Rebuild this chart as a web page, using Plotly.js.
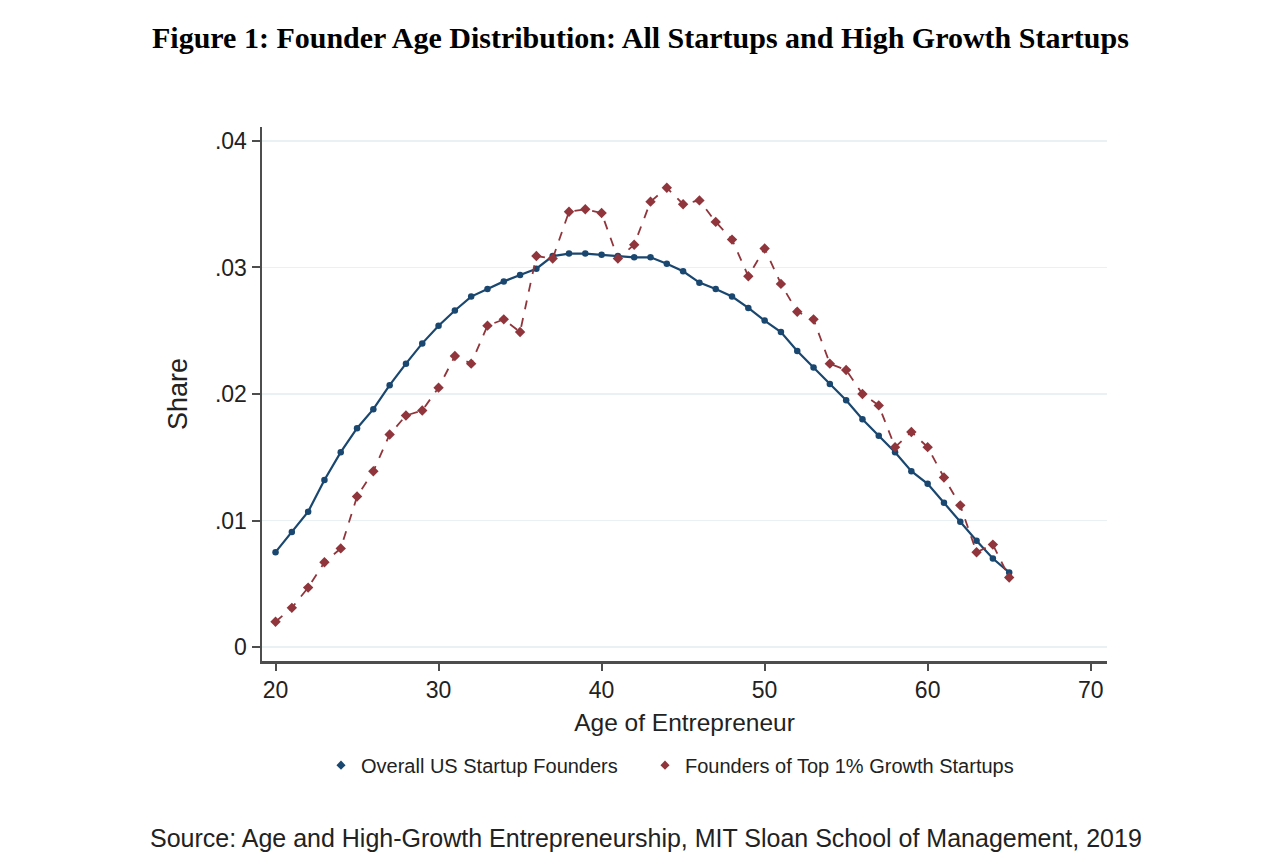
<!DOCTYPE html>
<html>
<head>
<meta charset="utf-8">
<script src="https://cdn.plot.ly/plotly-3.0.1.min.js"></script>
<style>
  html, body { margin: 0; padding: 0; background: #fff; }
  #chart { width: 1280px; height: 865px; }
</style>
</head>
<body>
<div id="chart"></div>
<script>
// founder age, 20..65
const ages = [20, 21, 22, 23, 24, 25, 26, 27, 28, 29, 30, 31, 32, 33, 34, 35,
  36, 37, 38, 39, 40, 41, 42, 43, 44, 45, 46, 47, 48, 49, 50, 51, 52, 53, 54,
  55, 56, 57, 58, 59, 60, 61, 62, 63, 64, 65];

// share of all US startup founders
const overallShare = [0.0075, 0.0091, 0.0107, 0.0132, 0.0154, 0.0173, 0.0188,
  0.0207, 0.0224, 0.0240, 0.0254, 0.0266, 0.0277, 0.0283, 0.0289, 0.0294,
  0.0299, 0.0309, 0.0311, 0.0311, 0.0310, 0.0309, 0.0308, 0.0308, 0.0303,
  0.0297, 0.0288, 0.0283, 0.0277, 0.0268, 0.0258, 0.0249, 0.0234, 0.0221,
  0.0208, 0.0195, 0.0180, 0.0167, 0.0154, 0.0139, 0.0129, 0.0114, 0.0099,
  0.0084, 0.0070, 0.0059];

// share of founders of top 1% growth startups
const topShare = [0.0020, 0.0031, 0.0047, 0.0067, 0.0078, 0.0119, 0.0139,
  0.0168, 0.0183, 0.0187, 0.0205, 0.0230, 0.0224, 0.0254, 0.0259, 0.0249,
  0.0309, 0.0307, 0.0344, 0.0346, 0.0343, 0.0307, 0.0318, 0.0352, 0.0363,
  0.0350, 0.0353, 0.0336, 0.0322, 0.0293, 0.0315, 0.0287, 0.0265, 0.0259,
  0.0224, 0.0219, 0.0200, 0.0191, 0.0158, 0.0170, 0.0158, 0.0134, 0.0112,
  0.0075, 0.0081, 0.0055];

const seriesNames = ['Overall US Startup Founders', 'Founders of Top 1% Growth Startups'];

const xTicks = [20, 30, 40, 50, 60, 70];
const yTicks = [0, 0.01, 0.02, 0.03, 0.04];
const yTickText = ['0', '.01', '.02', '.03', '.04'];

const NAVY = '#1a476f';
const MAROON = '#90353b';
const AXIS = '#4d4d4d';

const traces = [
  {
    x: ages, y: overallShare,
    mode: 'lines+markers',
    name: seriesNames[0], showlegend: false,
    line: { color: NAVY, width: 2.2 },
    marker: { color: NAVY, size: 6.5, symbol: 'circle' }
  },
  {
    x: ages, y: topShare,
    mode: 'lines+markers',
    name: seriesNames[1], showlegend: false,
    line: { color: MAROON, width: 1.8, dash: 'dash' },
    marker: { color: MAROON, size: 8, symbol: 'diamond' }
  },
  // legend keys: marker only, as in the original
  {
    x: [null], y: [null], mode: 'markers', name: seriesNames[0], legend: 'legend',
    marker: { color: NAVY, size: 7, symbol: 'diamond' }
  },
  {
    x: [null], y: [null], mode: 'markers', name: seriesNames[1], legend: 'legend2',
    marker: { color: MAROON, size: 7, symbol: 'diamond' }
  }
];

const legendBase = {
  orientation: 'h', xanchor: 'left', y: -0.195, yanchor: 'middle',
  font: { size: 20, color: '#222' }, bgcolor: 'rgba(0,0,0,0)'
};

const layout = {
  width: 1280, height: 865,
  margin: { t: 127, r: 173, b: 204, l: 262 },
  paper_bgcolor: '#ffffff',
  plot_bgcolor: '#ffffff',
  font: { family: 'Liberation Sans, Arial, sans-serif', color: '#222', size: 23 },
  showlegend: true,
  legend: Object.assign({}, legendBase, { x: (342 - 21 - 262) / 845 }),
  legend2: Object.assign({}, legendBase, { x: (666 - 21 - 262) / 845 }),
  xaxis: {
    range: [19.17, 71.0],
    tickvals: xTicks,
    ticks: 'outside', ticklen: 7, tickwidth: 2, tickcolor: AXIS,
    showline: true, linecolor: AXIS, linewidth: 2.5,
    showgrid: false, zeroline: false,
    tickfont: { size: 23 },
    title: { text: 'Age of Entrepreneur', font: { size: 24.5 }, standoff: 12 }
  },
  yaxis: {
    range: [-0.0011, 0.0411],
    tickvals: yTicks, ticktext: yTickText,
    ticks: 'outside', ticklen: 8, tickwidth: 2, tickcolor: AXIS,
    showline: true, linecolor: AXIS, linewidth: 2.5,
    showgrid: true, gridcolor: '#eaf1f3', gridwidth: 1.5,
    zeroline: false,
    tickfont: { size: 23 },
    title: { text: 'Share', font: { size: 27 }, standoff: 20 }
  },
  annotations: [
    {
      text: '<b>Figure 1: Founder Age Distribution: All Startups and High Growth Startups</b>',
      xref: 'paper', yref: 'paper', x: (640 - 262) / 845, y: (661 - 38) / 534,
      xanchor: 'center', yanchor: 'middle', showarrow: false,
      font: { family: 'Liberation Serif, Times New Roman, serif', size: 30, color: '#000' }
    },
    {
      text: 'Source: Age and High-Growth Entrepreneurship, MIT Sloan School of Management, 2019',
      xref: 'paper', yref: 'paper', x: (148 - 262) / 845, y: (661 - 838) / 534,
      xanchor: 'left', yanchor: 'middle', showarrow: false,
      font: { size: 25, color: '#222' }
    }
  ]
};

Plotly.newPlot('chart', traces, layout, { displayModeBar: false, staticPlot: true });
</script>
</body>
</html>
